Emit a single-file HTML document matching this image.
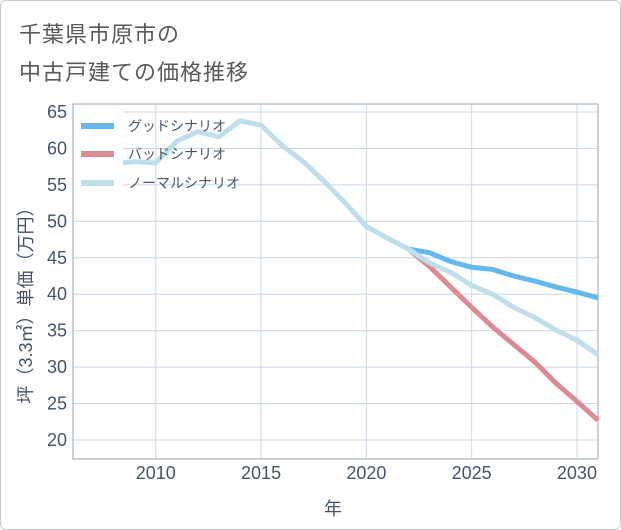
<!DOCTYPE html>
<html><head><meta charset="utf-8"><style>
body{margin:0;background:#fff;}
#wrap{position:relative;width:619px;height:528px;border:1px solid #ccc;border-radius:6px;overflow:hidden;font-family:"Liberation Sans","Noto Sans CJK JP",sans-serif;}
.title{position:absolute;left:18px;font-size:22px;color:#5a5a5a;letter-spacing:1px;}
</style></head><body>
<div id="wrap">
<div class="title" style="top:16px">千葉県市原市の</div>
<div class="title" style="top:54px">中古戸建ての価格推移</div>
<svg id="c" width="621" height="530" style="position:absolute;left:0;top:0"></svg>
</div>
<script>
const years=[2008,2009,2010,2011,2012,2013,2014,2015,2016,2017,2018,2019,2020,2021,2022,2023,2024,2025,2026,2027,2028,2029,2030,2031];
const normal=[57.9,58.2,58.0,61.0,62.3,61.6,63.8,63.2,60.4,58.2,55.5,52.5,49.3,47.7,46.2,44.3,43.0,41.2,40.0,38.2,36.8,35.1,33.7,31.7];
const futYears=[2022,2023,2024,2025,2026,2027,2028,2029,2030,2031];
const good=[46.2,45.7,44.5,43.7,43.4,42.5,41.8,41.0,40.3,39.5];
const bad=[46.2,43.8,41.0,38.2,35.5,33.1,30.7,27.8,25.3,22.7];
const yTicks=[20,25,30,35,40,45,50,55,60,65];
const xTicks=[2010,2015,2020,2025,2030];
const L=72,R=597,T=103,B=458;
const x=v=>L+(v-2006.07)*(R-L)/(2031-2006.07);
const y=v=>111+(65-v)*(439-111)/45;
const svg=document.getElementById('c');const NS='http://www.w3.org/2000/svg';
function mk(t,a,p){const e=document.createElementNS(NS,t);for(const k in a)e.setAttribute(k,a[k]);(p||svg).appendChild(e);return e;}
const grid=mk('g',{});


yTicks.forEach(v=>{
 const l=mk('line',{x1:L,x2:R,y1:y(v),y2:y(v),stroke:'#ccd8e6','stroke-width':1},grid);
 
 
 const t=mk('text',{x:L-6,y:y(v)+6,'text-anchor':'end','font-size':18,fill:'#44546e'});
 t.textContent=v;
 
 
});
xTicks.forEach(v=>{
 const l=mk('line',{x1:x(v),x2:x(v),y1:T,y2:B,stroke:'#ccd8e6','stroke-width':1},grid);
 
 
 const t=mk('text',{x:x(v),y:B+20,'text-anchor':'middle','font-size':18,fill:'#44546e'});
 t.textContent=v;
 
 
});
const frame=mk('rect',{x:L,y:T,width:R-L,height:B-T,fill:'none',stroke:'#9aa6b6','stroke-width':1});


function line(xs,vs,col,name){
 const p=mk('polyline',{points:xs.map((yr,i)=>x(yr)+','+y(vs[i])).join(' '),fill:'none',stroke:col,'stroke-width':5,'stroke-linejoin':'round'});
 
 
}
line(futYears,good,'#63b8ee','good-scenario-line');
line(futYears,bad,'#de8a93','bad-scenario-line');
line(years,normal,'#bddfec','normal-scenario-line');
const lg=mk('g',{});


mk('rect',{x:73,y:104,width:49,height:86,fill:'#fff'},lg);
[['グッドシナリオ','#63b8ee',125],['バッドシナリオ','#de8a93',153],['ノーマルシナリオ','#bddfec',182]].forEach(([n,c,yy])=>{
 const s=mk('line',{x1:80,x2:113,y1:yy,y2:yy,stroke:c,'stroke-width':6},lg);
 
 
 const t=mk('text',{x:127,y:yy+5,'font-size':14,fill:'#4a5568'},lg);
 t.textContent=n;
 
 
});
const xl=mk('text',{x:332,y:514,'text-anchor':'middle','font-size':18,fill:'#44546e'});
xl.textContent='年';


const yl=mk('text',{x:0,y:0,'text-anchor':'middle','font-size':18,fill:'#44546e',transform:'translate(31,300) rotate(-90)'});
yl.textContent='坪（3.3㎡）単価（万円）';


</script>
</body></html>
